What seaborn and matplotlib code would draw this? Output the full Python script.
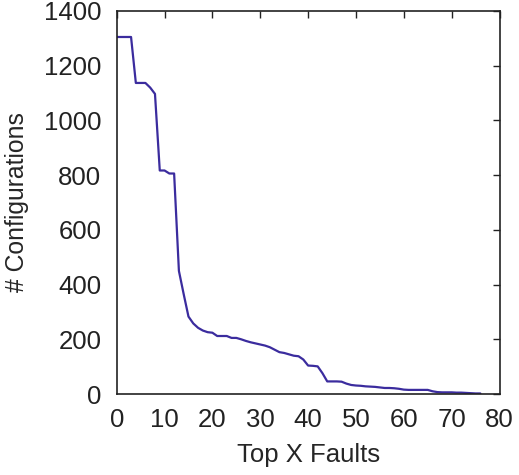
import matplotlib
matplotlib.use("Agg")
import matplotlib.pyplot as plt
import seaborn as sns
import pandas as pd

top_x = list(range(77))
configs = [1305, 1305, 1305, 1305, 1137, 1137, 1137, 1120, 1097, 817,
           817, 806, 806, 450, 365, 283, 258, 242, 232, 226,
           224, 212, 212, 212, 205, 205, 200, 194, 189, 185,
           181, 177, 171, 162, 153, 150, 145, 140, 138, 126,
           104, 103, 101, 76, 46, 46, 46, 45, 38, 33,
           31, 30, 28, 27, 26, 24, 22, 22, 21, 19,
           16, 15, 15, 15, 15, 15, 10, 7, 6, 6,
           6, 5, 5, 4, 3, 2, 2]

x_ticks = [0, 10, 20, 30, 40, 50, 60, 70, 80]
y_ticks = [0, 200, 400, 600, 800, 1000, 1200, 1400]

sns.set_style("white")
plt.rcParams['font.family'] = ['Liberation Sans', 'DejaVu Sans']

df = pd.DataFrame({"x": top_x, "y": configs})

fig = plt.figure(figsize=(5.19, 4.75), dpi=100)
ax = fig.add_axes([116.7/519, 1-394/475, (499.5-116.7)/519, (394-11)/475])
sns.lineplot(data=df, x="x", y="y", ax=ax, color="#3b2c9e", linewidth=1.6)

ax.set_xlim(0, 80)
ax.set_ylim(0, 1400)
ax.set_xticks(x_ticks)
ax.set_yticks(y_ticks)
ax.tick_params(direction="in", length=5, width=1, top=True, right=True,
               labelsize=18.5, colors="#222222")
ax.tick_params(axis="y", pad=11)
ax.tick_params(axis="x", pad=10)
for s in ax.spines.values():
    s.set_visible(True)
    s.set_color("#222222")
    s.set_linewidth(1.2)
ax.set_xlabel("Top X Faults", fontsize=18.5, labelpad=8)
ax.set_ylabel("# Configurations", fontsize=17.8, labelpad=11)
fig.savefig("out.png", dpi=100)
